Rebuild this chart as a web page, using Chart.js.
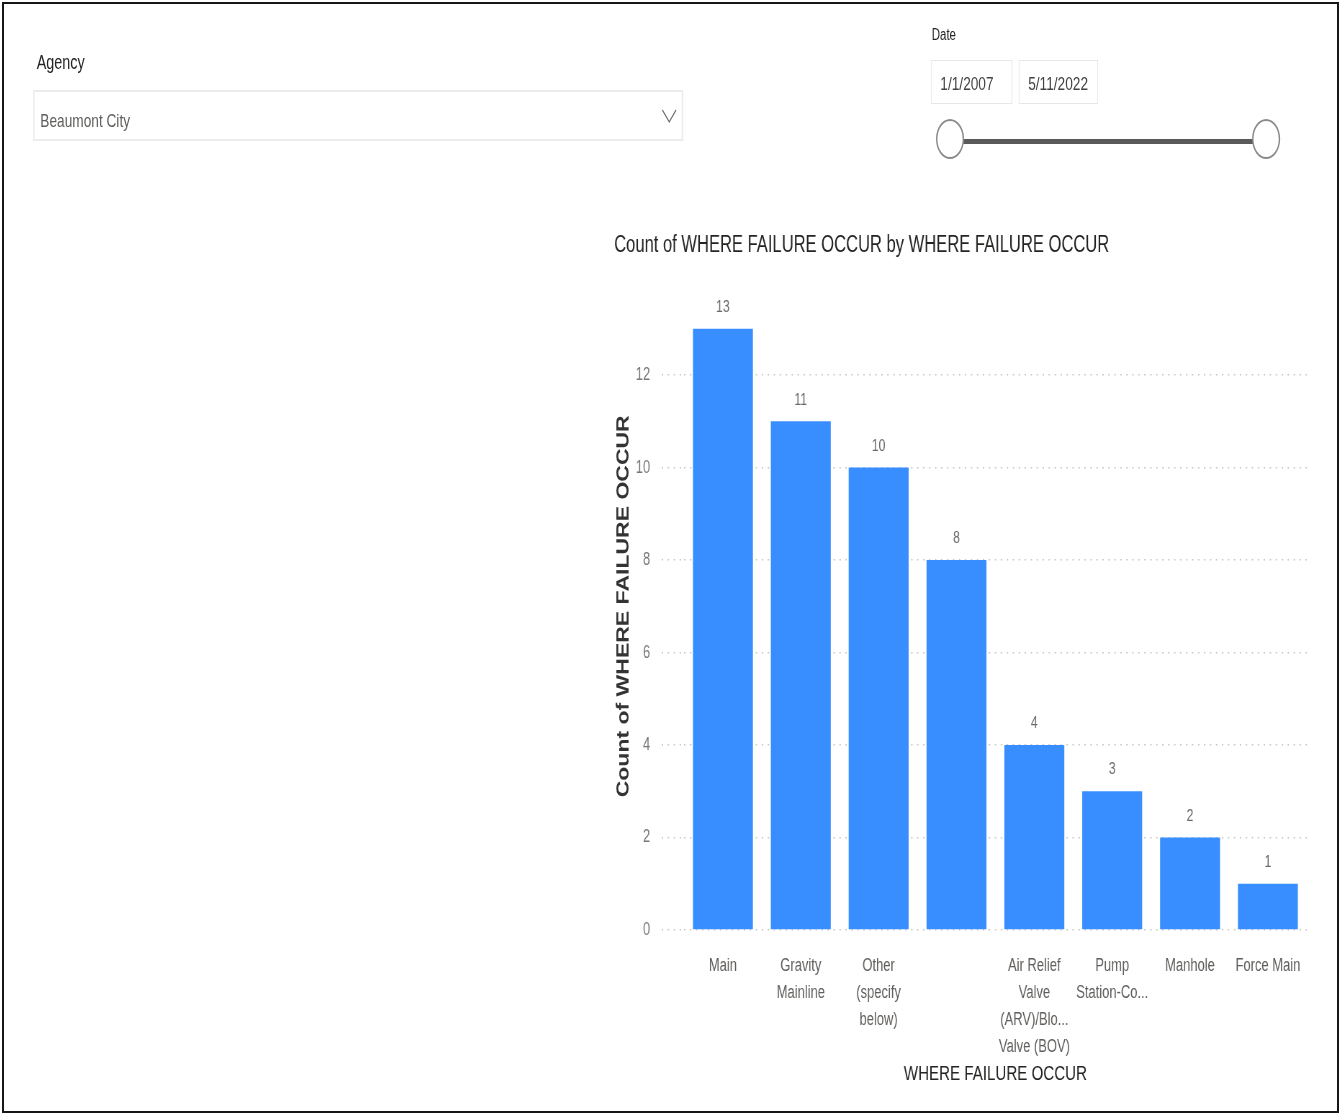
<!DOCTYPE html>
<html>
<head>
<meta charset="utf-8">
<script src="https://cdn.jsdelivr.net/npm/chart.js@4.4.1/dist/chart.umd.min.js"></script>
<style>
  html, body { margin: 0; padding: 0; background: #fff; }
  body { width: 1340px; height: 1115px; position: relative; overflow: hidden;
         font-family: "Liberation Sans", Arial, sans-serif; }
  .frame { position: absolute; left: 2px; top: 2px; width: 1337px; height: 1111px;
           box-sizing: border-box; border: 2px solid #161616; z-index: 2; pointer-events: none; }
  /* la captura original esta comprimida en horizontal, se imita con scaleX */
  .stage { position: absolute; left: 0; top: 0; width: 1861px; height: 1115px;
           transform: scaleX(0.72); transform-origin: 0 0; }
  .lbl { position: absolute; color: #252423; white-space: nowrap; }
  .dropdown { position: absolute; left: 46px; top: 90px; width: 903px; height: 51px;
              box-sizing: border-box; border: 2px solid #ececec; }
  .dropdown span { position: absolute; left: 8px; top: 18px; font-size: 19px; color: #605e5c; }
  .chev { position: absolute; left: 871px; top: 17px; width: 21px; height: 14px; }
  .datebox { position: absolute; top: 60px; height: 44px; box-sizing: border-box;
             border: 1px solid #e6e6e6; font-size: 19px; color: #444; padding: 12px 0 0 12px; }
  .track { position: absolute; left: 1337px; top: 139px; width: 404px; height: 5px; background: #5a5a5a; }
  .knob { position: absolute; top: 119px; width: 39px; height: 40px; box-sizing: border-box;
          border: 2px solid #8a8a8a; border-radius: 50%; background: #fff; }
  #wrap { position: absolute; left: 833px; top: 220px; width: 1014px; height: 880px; }
</style>
</head>
<body>
<div class="frame"></div>

<div class="stage">
  <div class="lbl" style="left:51px; top:51px; font-size:20px;">Agency</div>
  <div class="dropdown">
    <span>Beaumont City</span>
    <svg class="chev" viewBox="0 0 21 14"><polyline points="1,1 10.5,13 20,1" fill="none" stroke="#666" stroke-width="1.3"/></svg>
  </div>

  <div class="lbl" style="left:1294px; top:26px; font-size:16px;">Date</div>
  <div class="datebox" style="left:1293px; width:113px;">1/1/2007</div>
  <div class="datebox" style="left:1415px; width:110px;">5/11/2022</div>
  <div class="track"></div>
  <div class="knob" style="left:1300px;"></div>
  <div class="knob" style="left:1739px;"></div>

  <div id="wrap"><canvas id="chart"></canvas></div>
</div>

<script>
// datos del grafico
const categories = [
  "Main",
  ["Gravity", "Mainline"],
  ["Other", "(specify", "below)"],
  "",
  ["Air Relief", "Valve", "(ARV)/Blo...", "Valve (BOV)"],
  ["Pump", "Station-Co..."],
  "Manhole",
  "Force Main"
];
const counts = [13, 11, 10, 8, 4, 3, 2, 1];
const yTicks = [0, 2, 4, 6, 8, 10, 12];

const FONT = '"Liberation Sans", Arial, sans-serif';

// etiquetas de valor encima de cada barra
const valueLabels = {
  id: "valueLabels",
  afterDatasetsDraw(chart) {
    const ctx = chart.ctx;
    const meta = chart.getDatasetMeta(0);
    ctx.save();
    ctx.font = "17px " + FONT;
    ctx.fillStyle = "#6b6b6b";
    ctx.textAlign = "center";
    ctx.textBaseline = "bottom";
    meta.data.forEach((bar, i) => {
      ctx.fillText(String(counts[i]), bar.x, bar.y - 13);
    });
    ctx.restore();
  }
};

const ctx = document.getElementById("chart").getContext("2d");
const failureChart = new Chart(ctx, {
  type: "bar",
  data: {
    labels: categories,
    datasets: [{
      label: "Count of WHERE FAILURE OCCUR",
      data: counts,
      backgroundColor: "#388eff",
      categoryPercentage: 1,
      barPercentage: 0.77
    }]
  },
  options: {
    responsive: true,
    maintainAspectRatio: false,
    animation: false,
    layout: { padding: { left: 20, right: 32, top: 0, bottom: 0 } },
    plugins: {
      legend: { display: false },
      tooltip: { enabled: false },
      title: {
        display: true,
        text: "Count of WHERE FAILURE OCCUR by WHERE FAILURE OCCUR",
        align: "start",
        color: "#252423",
        font: { family: FONT, size: 23, weight: "normal" },
        padding: { top: 12, bottom: 23 }
      }
    },
    scales: {
      x: {
        grid: { display: false, drawTicks: false },
        border: { display: false },
        ticks: {
          color: "#605e5c",
          font: { family: FONT, size: 18, lineHeight: "27px" },
          padding: 23,
          maxRotation: 0,
          autoSkip: false
        },
        title: {
          display: true,
          text: "WHERE FAILURE OCCUR",
          color: "#252423",
          font: { family: FONT, size: 21 },
          padding: { top: 0, bottom: 13 }
        },
        afterFit(scale) { scale.height = 170; }
      },
      y: {
        min: 0,
        max: 14,
        afterBuildTicks(scale) {
          scale.ticks = yTicks.map(v => ({ value: v }));
        },
        grid: {
          color: "#c8c6c4",
          lineWidth: 1.5,
          tickLength: 31,
          tickColor: "#c8c6c4",
          tickBorderDash: [2, 6.3]
        },
        border: { display: false, dash: [2, 6.3] },
        ticks: {
          color: "#777",
          font: { family: FONT, size: 18 },
          padding: 16
        },
        title: {
          display: true,
          text: "Count of WHERE FAILURE OCCUR",
          color: "#333",
          font: { family: FONT, size: 23, weight: "bold" },
          padding: { top: 0, bottom: 0 }
        },
        afterFit(scale) { scale.width = 97; }
      }
    }
  },
  plugins: [valueLabels]
});
</script>
</body>
</html>
